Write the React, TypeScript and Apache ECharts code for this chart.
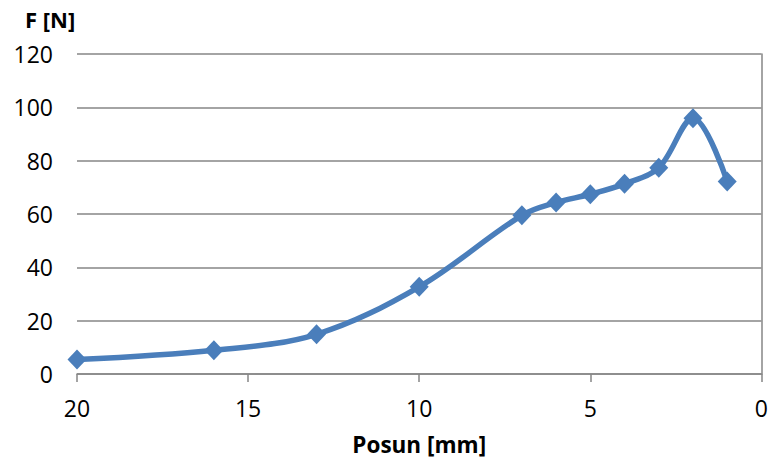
import React, { useEffect, useRef } from "react";
import * as echarts from "echarts";

// Displacement (mm) and measured force (N)
const posun: number[] = [20, 16, 13, 10, 7, 6, 5, 4, 3, 2, 1];
const sila: number[] = [5.4, 8.9, 14.9, 32.7, 59.5, 64.3, 67.4, 71.3, 77.3, 95.9, 72.2];

const xTicks = { min: 0, max: 20, interval: 5 };
const yTicks = { min: 0, max: 120, interval: 20 };

const FONT = "'Open Sans', Lato, sans-serif";

export default function App() {
  const ref = useRef<HTMLDivElement>(null);

  useEffect(() => {
    if (!ref.current) return;
    const chart = echarts.init(ref.current, undefined, { renderer: "svg" });
    chart.setOption({
      animation: false,
      backgroundColor: "#ffffff",
      grid: { left: 77, right: 4, top: 54, bottom: 84, containLabel: false },
      graphic: [
        {
          type: "text",
          left: 25,
          top: 8,
          style: { text: "F [N]", font: `bold 22px ${FONT}`, fill: "#000" },
        },
      ],
      xAxis: {
        type: "value",
        inverse: true,
        min: xTicks.min,
        max: xTicks.max,
        interval: xTicks.interval,
        name: "Posun [mm]",
        nameLocation: "middle",
        nameGap: 59,
        nameTextStyle: { fontFamily: FONT, fontSize: 22.5, fontWeight: "bold", color: "#000" },
        axisLine: { show: true, lineStyle: { color: "#868686", width: 1.5 } },
        axisTick: { show: true, inside: false, length: 8, lineStyle: { color: "#868686", width: 1.5 } },
        axisLabel: { fontFamily: FONT, fontSize: 23, color: "#000", margin: 22 },
        splitLine: { show: false },
      },
      yAxis: {
        type: "value",
        min: yTicks.min,
        max: yTicks.max,
        interval: yTicks.interval,
        axisLine: { show: true, lineStyle: { color: "#868686", width: 1.5 } },
        axisTick: { show: false },
        axisLabel: { fontFamily: FONT, fontSize: 23, color: "#000", margin: 24 },
        splitLine: { show: true, lineStyle: { color: "#868686", width: 1.5 } },
      },
      series: [
        {
          type: "line",
          data: posun.map((x, i) => [x, sila[i]]),
          smooth: 0.35,
          symbol: "diamond",
          symbolSize: [19, 20],
          lineStyle: { color: "#4a7ebb", width: 5.5 },
          itemStyle: { color: "#4a7ebb" },
        },
      ],
    });
    return () => chart.dispose();
  }, []);

  return (
    <div
      ref={ref}
      style={{ position: "fixed", left: 0, top: 0, width: 771, height: 461, background: "#fff" }}
    />
  );
}
